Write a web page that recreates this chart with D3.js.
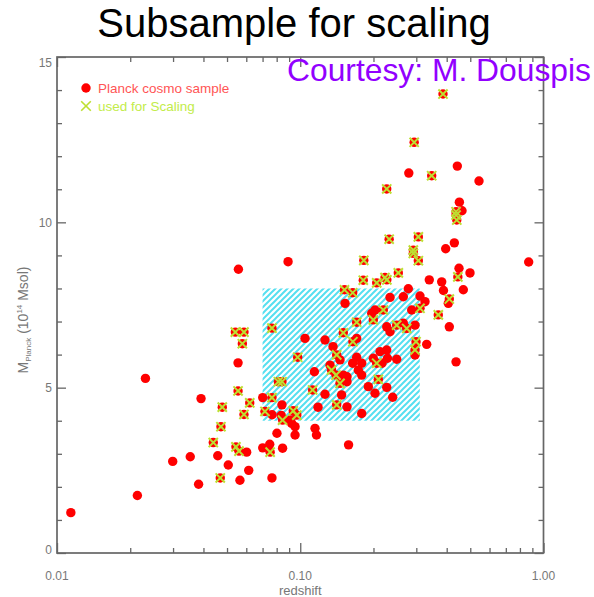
<!DOCTYPE html>
<meta charset="utf-8">
<script src="https://d3js.org/d3.v7.min.js"></script>
<style>
body { margin: 0; background: #fff; }
svg text { font-family: "Liberation Sans", Arial, sans-serif; }
</style>
<div id="chart"></div>
<script>

// Planck cosmo sample clusters not in the subsample: [redshift, mass (1e14 Msol)]
var cosmoOnly = [
  [0.0114,1.22],[0.0214,1.74],[0.0231,5.28],[0.0299,2.77],[0.0353,2.91],[0.0382,2.08],
  [0.0391,4.67],[0.0458,2.94],[0.0506,2.66],[0.0557,8.58],[0.0555,5.75],[0.0602,3.05],
  [0.0565,2.20],[0.0614,2.50],[0.0701,3.18],[0.0749,3.29],[0.0765,2.27],[0.0846,3.17],
  [0.0802,3.62],[0.0701,4.70],[0.0766,4.18],[0.0841,4.48],[0.0835,4.16],[0.0891,8.81],
  [0.0952,3.57],[0.0908,4.02],[0.0922,3.92],[0.0952,3.82],[0.1150,3.77],[0.1166,3.57],
  [0.158,3.27],[0.1528,7.55],[0.2339,7.73],[0.2653,7.75],[0.2781,7.99],[0.3107,7.77],
  [0.3392,8.26],[0.3815,8.20],[0.388,7.94],[0.4061,7.55],[0.2872,7.35],[0.3257,7.60],
  [0.2029,7.35],[0.1967,7.25],[0.2267,6.84],[0.2339,6.69],[0.2653,6.95],[0.2963,6.89],
  [0.2963,5.99],[0.331,6.31],[0.1706,6.49],[0.1264,6.44],[0.1046,6.49],[0.1364,6.24],
  [0.1457,5.84],[0.1706,5.92],[0.1789,5.74],[0.1643,5.74],[0.1733,5.53],[0.1789,5.38],
  [0.1997,5.89],[0.2168,5.74],[0.2128,6.09],[0.2267,6.14],[0.2283,5.89],[0.2492,5.86],
  [0.1326,5.68],[0.1143,5.48],[0.1503,5.38],[0.1557,5.33],[0.1557,5.18],[0.1905,5.03],
  [0.2267,5.01],[0.2029,4.83],[0.2399,4.71],[0.1264,4.80],[0.1479,4.78],[0.1557,4.42],
  [0.1183,4.41],[0.1789,4.22],[0.4494,8.61],[0.4987,8.47],[0.4681,7.96],[0.3962,9.20],
  [0.4300,9.38],[0.869,8.80],[0.4423,11.70],[0.543,11.25],[0.2794,11.49],[0.451,10.61],
  [0.4624,10.35],[0.410,6.84],[0.437,5.78]
];

// clusters used for scaling (drawn as red dot + cross)
var scalingSubsample = [
  [0.0439,3.34],[0.0469,2.27],[0.0472,3.82],[0.0478,4.41],[0.0541,6.68],[0.0587,6.68],
  [0.0578,6.33],[0.0555,4.90],[0.0620,4.54],[0.0587,4.19],[0.0544,3.21],[0.0560,3.08],
  [0.0752,3.05],[0.0765,4.70],[0.0716,4.28],[0.0846,4.02],[0.0813,5.18],[0.0841,5.18],
  [0.0765,6.80],[0.0976,5.92],[0.0936,4.30],[0.0968,4.17],[0.152,7.96],[0.1643,7.87],
  [0.1816,8.25],[0.2062,8.17],[0.223,8.33],[0.227,8.26],[0.253,8.47],[0.410,7.68],
  [0.3694,7.20],[0.3107,7.40],[0.2195,7.35],[0.1997,7.05],[0.1706,6.98],[0.2492,6.89],
  [0.2739,6.79],[0.2992,6.39],[0.2963,6.14],[0.1503,6.66],[0.1646,6.39],[0.1412,5.99],
  [0.2062,5.74],[0.1403,5.38],[0.1457,5.13],[0.2094,5.25],[0.1124,4.93],[0.1412,4.48],
  [0.1345,5.53],[0.3862,13.88],[0.294,12.42],[0.347,11.41],[0.2267,11.01],[0.437,10.32],
  [0.437,10.22],[0.440,10.07],[0.1825,8.85],[0.232,9.49],[0.3058,9.56],[0.2916,9.16],
  [0.2916,9.06],[0.3058,8.84],[0.4445,8.35]
];

// hatched selection box
var boxRedshift = [0.07, 0.31];
var boxMass = [4, 8];

var xTicks = [0.01, 0.1, 1];
var xTickLabels = ["0.01", "0.10", "1.00"];
var yTicks = [0, 5, 10, 15];
var legendLabels = ["Planck cosmo sample", "used for Scaling"];

var width = 594, height = 597;
var plotL = 57, plotR = 543.5, plotT = 57, plotB = 553;

var svg = d3.select("#chart").append("svg")
  .attr("width", width)
  .attr("height", height);

var x = d3.scaleLog().domain([0.01, 1]).range([plotL, plotR]);
var y = d3.scaleLinear().domain([0, 15]).range([plotB, plotT]);

// hatch pattern
var defs = svg.append("defs");
defs.append("pattern")
    .attr("id", "hatch")
    .attr("patternUnits", "userSpaceOnUse")
    .attr("width", 6).attr("height", 6)
  .append("path")
    .attr("d", "M-1,1 l2,-2 M0,6 l6,-6 M5,7 l2,-2")
    .attr("stroke", "#55dff0")
    .attr("stroke-width", 2);

svg.append("rect")
  .attr("x", x(boxRedshift[0]))
  .attr("y", y(boxMass[1]))
  .attr("width", x(boxRedshift[1]) - x(boxRedshift[0]))
  .attr("height", y(boxMass[0]) - y(boxMass[1]))
  .attr("fill", "url(#hatch)");

// axes: ticks point inward on all four sides
var minorX = x.ticks().filter(function(d) { return xTicks.indexOf(d) < 0; });
var minorY = d3.range(0, 16).filter(function(d) { return yTicks.indexOf(d) < 0; });

function addAxis(axis, tr) {
  var g = svg.append("g").attr("transform", tr).call(axis);
  g.select(".domain").remove();
  g.selectAll("line").attr("stroke", "#666").attr("stroke-width", 1.3);
  g.selectAll("text").remove();
}
addAxis(d3.axisBottom(x).tickValues(minorX).tickSize(-5), "translate(0," + plotB + ")");
addAxis(d3.axisBottom(x).tickValues(xTicks).tickSize(-10), "translate(0," + plotB + ")");
addAxis(d3.axisTop(x).tickValues(minorX).tickSize(-5), "translate(0," + plotT + ")");
addAxis(d3.axisTop(x).tickValues(xTicks).tickSize(-10), "translate(0," + plotT + ")");
addAxis(d3.axisLeft(y).tickValues(minorY).tickSize(-5), "translate(" + plotL + ",0)");
addAxis(d3.axisLeft(y).tickValues(yTicks).tickSize(-9), "translate(" + plotL + ",0)");
addAxis(d3.axisRight(y).tickValues(minorY).tickSize(-5), "translate(" + plotR + ",0)");
addAxis(d3.axisRight(y).tickValues(yTicks).tickSize(-9), "translate(" + plotR + ",0)");

svg.append("rect")
  .attr("x", plotL).attr("y", plotT)
  .attr("width", plotR - plotL).attr("height", plotB - plotT)
  .attr("fill", "none")
  .attr("stroke", "#666")
  .attr("stroke-width", 1.7);

// tick labels
svg.selectAll(".xlab").data(xTicks).enter().append("text")
  .attr("x", function(d) { return x(d); })
  .attr("y", 580)
  .attr("text-anchor", "middle")
  .attr("font-size", 12)
  .attr("fill", "#777")
  .text(function(d, i) { return xTickLabels[i]; });

svg.selectAll(".ylab").data(yTicks).enter().append("text")
  .attr("x", 52)
  .attr("y", function(d) { return Math.min(Math.max(y(d), 63), 550); })
  .attr("dy", "0.36em")
  .attr("text-anchor", "end")
  .attr("font-size", 12)
  .attr("fill", "#777")
  .text(function(d) { return d; });

svg.append("text")
  .attr("x", x(0.1))
  .attr("y", 595)
  .attr("text-anchor", "middle")
  .attr("font-size", 13)
  .attr("fill", "#777")
  .text("redshift");

var ylab = svg.append("text")
  .attr("transform", "translate(28,320) rotate(-90)")
  .attr("text-anchor", "middle")
  .attr("font-size", 14)
  .attr("fill", "#777");
ylab.append("tspan").text("M");
ylab.append("tspan").attr("font-size", 8).attr("dy", 3).text("Planck");
ylab.append("tspan").attr("dy", -3).text(" (10");
ylab.append("tspan").attr("font-size", 8).attr("dy", -6).text("14");
ylab.append("tspan").attr("dy", 6).text(" Msol)");

// points
var allPoints = cosmoOnly.concat(scalingSubsample);
svg.append("g").selectAll("circle")
  .data(allPoints).enter().append("circle")
  .attr("cx", function(d) { return x(d[0]); })
  .attr("cy", function(d) { return y(d[1]); })
  .attr("r", 4.7)
  .attr("fill", "#f00");

function cross(cx, cy, s) {
  return "M" + (cx - s) + "," + (cy - s) + "L" + (cx + s) + "," + (cy + s) +
         "M" + (cx - s) + "," + (cy + s) + "L" + (cx + s) + "," + (cy - s);
}
svg.append("g").selectAll("path")
  .data(scalingSubsample).enter().append("path")
  .attr("d", function(d) { return cross(x(d[0]), y(d[1]), 4.6); })
  .attr("stroke", "#bde032")
  .attr("stroke-width", 2)
  .attr("fill", "none");

// legend
svg.append("circle").attr("cx", 86).attr("cy", 88).attr("r", 4.7).attr("fill", "#f00");
svg.append("path").attr("d", cross(86, 106, 4.8))
  .attr("stroke", "#bde032").attr("stroke-width", 1.6).attr("fill", "none");
svg.append("text").attr("x", 98).attr("y", 92.5).attr("font-size", 13.5)
  .attr("fill", "#ff5555").text(legendLabels[0]);
svg.append("text").attr("x", 98).attr("y", 110.5).attr("font-size", 13.5)
  .attr("fill", "#c2ec4a").text(legendLabels[1]);

// titles
svg.append("text")
  .attr("x", 294).attr("y", 37)
  .attr("text-anchor", "middle")
  .attr("font-size", 40)
  .attr("fill", "#000")
  .text("Subsample for scaling");

svg.append("text")
  .attr("x", 287).attr("y", 81)
  .attr("font-size", 31.8)
  .attr("fill", "#9200ff")
  .text("Courtesy: M. Douspis");

</script>
